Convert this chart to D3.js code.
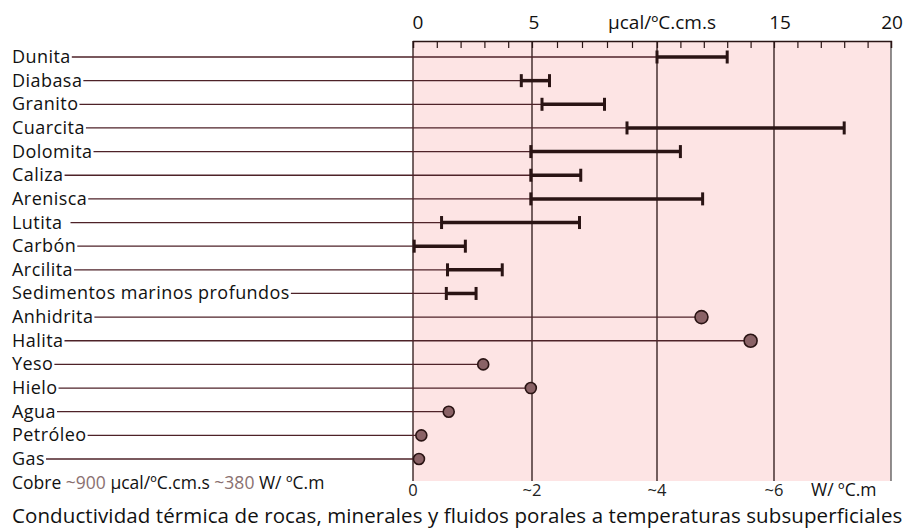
<!DOCTYPE html>
<html>
<head>
<meta charset="utf-8">
<script src="https://cdn.jsdelivr.net/npm/d3@7"></script>
<style>
  body { margin: 0; background: #fff; }
  text { font-family: "Open Sans", sans-serif; }
</style>
</head>
<body>
<div id="chart"></div>
<script>
// Data (µcal/ºC.cm.s)
const materials = ["Dunita", "Diabasa", "Granito", "Cuarcita", "Dolomita", "Caliza", "Arenisca", "Lutita",
  "Carbón", "Arcilita", "Sedimentos marinos profundos", "Anhidrita", "Halita", "Yeso", "Hielo", "Agua", "Petróleo", "Gas"];
// ranges: null where the material has a single value
const lowValues  = [10.0, 4.55, 5.4, 8.8, 4.95, 4.95, 4.95, 1.2, 0.05, 1.45, 1.4, null, null, null, null, null, null, null];
const highValues = [13.0, 5.7, 7.9, 18.0, 11.0, 6.95, 11.95, 6.9, 2.2, 3.75, 2.65, null, null, null, null, null, null, null];
const pointValues = [null, null, null, null, null, null, null, null, null, null, null, 11.9, 14.0, 2.95, 4.95, 1.5, 0.35, 0.25];

const topTickValues = [0, 5, 10, 15, 20];
const topTickLabels = ["0", "5", "µcal/ºC.cm.s", "15", "20"];
const bottomTickValues = [0, 5, 10, 15];
const bottomTickLabels = ["0", "~2", "~4", "~6"];

const width = 913, height = 532;
const svg = d3.select("#chart").append("svg")
  .attr("width", width).attr("height", height);

const plotTop = 41, plotBottom = 481;
// the printed axis is hand drawn, so the 5-unit segments are not all equal
const x = d3.scaleLinear().domain([0, 5, 10, 15, 20]).range([413, 532, 657, 774, 891]);
const y = d3.scalePoint().domain(materials).range([57, 459]);

const ink = "#2a1414";
const lineCol = "#4e2228";

// pink panel
svg.append("rect")
  .attr("x", x(0)).attr("y", plotTop)
  .attr("width", x(20) - x(0)).attr("height", plotBottom - plotTop)
  .attr("fill", "#fde4e4");

// vertical grid lines
svg.append("g").selectAll("line")
  .data([0, 5, 10, 15, 20])
  .join("line")
  .attr("x1", d => x(d)).attr("x2", d => x(d))
  .attr("y1", plotTop).attr("y2", plotBottom)
  .attr("stroke", (d, i) => i === 4 ? "#555" : ink)
  .attr("stroke-width", 1.3);

// top border + minor ticks
const topAxis = svg.append("g")
  .attr("transform", `translate(0,${plotTop})`)
  .call(d3.axisBottom(x).tickValues(d3.range(0, 21)).tickSize(7).tickFormat(""));
topAxis.select(".domain").attr("stroke", ink).attr("stroke-width", 1.3);
topAxis.selectAll(".tick line").attr("stroke", ink).attr("stroke-width", 1.2);

// top labels
const topDx = [5, 2, 5, 6, 1];
svg.append("g").selectAll("text")
  .data(topTickValues)
  .join("text")
  .attr("x", (d, i) => x(d) + topDx[i])
  .attr("y", 29)
  .attr("text-anchor", "middle")
  .attr("font-size", 19)
  .attr("fill", "#111")
  .text((d, i) => topTickLabels[i]);

// bottom labels (W/ºC.m)
svg.append("g").selectAll("text")
  .data(bottomTickValues)
  .join("text")
  .attr("x", d => x(d))
  .attr("y", 496)
  .attr("text-anchor", "middle")
  .attr("font-size", 16.5)
  .attr("fill", "#222")
  .text((d, i) => bottomTickLabels[i]);
svg.append("text")
  .attr("x", 811).attr("y", 496)
  .attr("font-size", 17.5).attr("fill", "#111")
  .text("W/ ºC.m");

// row labels
const labels = svg.append("g").selectAll("text")
  .data(materials)
  .join("text")
  .attr("x", 12)
  .attr("y", d => y(d) + 6)
  .attr("font-size", 18)
  .attr("letter-spacing", 0.45)
  .attr("fill", "#111")
  .text(d => d);

// leader lines
const labelEnds = labels.nodes().map(n => 12 + n.getComputedTextLength());
svg.append("g").selectAll("line")
  .data(materials)
  .join("line")
  .attr("x1", (d, i) => labelEnds[i] + (d === "Lutita" ? 8 : 1))
  .attr("x2", (d, i) => x(lowValues[i] !== null ? lowValues[i] : pointValues[i]) - (pointValues[i] !== null ? 5 : 0))
  .attr("y1", d => y(d)).attr("y2", d => y(d))
  .attr("stroke", lineCol)
  .attr("stroke-width", 1.3);

// ranges
const rangeIdx = materials.map((d, i) => i).filter(i => lowValues[i] !== null);
const ranges = svg.append("g").selectAll("g")
  .data(rangeIdx)
  .join("g");
ranges.append("line")
  .attr("x1", i => x(lowValues[i])).attr("x2", i => x(highValues[i]))
  .attr("y1", i => y(materials[i])).attr("y2", i => y(materials[i]))
  .attr("stroke", ink).attr("stroke-width", 3.5);
ranges.selectAll("rect.cap")
  .data(i => [lowValues[i], highValues[i]].map(v => ({ v, m: materials[i] })))
  .join("rect")
  .attr("class", "cap")
  .attr("x", d => x(d.v) - 1.5)
  .attr("y", d => y(d.m) - 6.5)
  .attr("width", 3).attr("height", 13)
  .attr("fill", ink);

// single values
const pointIdx = materials.map((d, i) => i).filter(i => pointValues[i] !== null);
svg.append("g").selectAll("circle")
  .data(pointIdx)
  .join("circle")
  .attr("cx", i => x(pointValues[i]))
  .attr("cy", i => y(materials[i]))
  .attr("r", i => pointValues[i] > 10 ? 6.5 : 5.5)
  .attr("fill", "#8a6266")
  .attr("stroke", ink)
  .attr("stroke-width", 1.6);

// copper note
const cobre = svg.append("text")
  .attr("x", 12).attr("y", 489)
  .attr("font-size", 17.5).attr("fill", "#111");
cobre.append("tspan").text("Cobre ");
cobre.append("tspan").attr("fill", "#8a7070").text("~900 ");
cobre.append("tspan").text("µcal/ºC.cm.s ");
cobre.append("tspan").attr("fill", "#8a7070").text("~380 ");
cobre.append("tspan").text("W/ ºC.m");

// caption
svg.append("text")
  .attr("x", 12).attr("y", 523)
  .attr("font-size", 20.5)
  .attr("letter-spacing", 0.1)
  .attr("fill", "#111")
  .text("Conductividad térmica de rocas, minerales y fluidos porales a temperaturas subsuperficiales");
</script>
</body>
</html>
